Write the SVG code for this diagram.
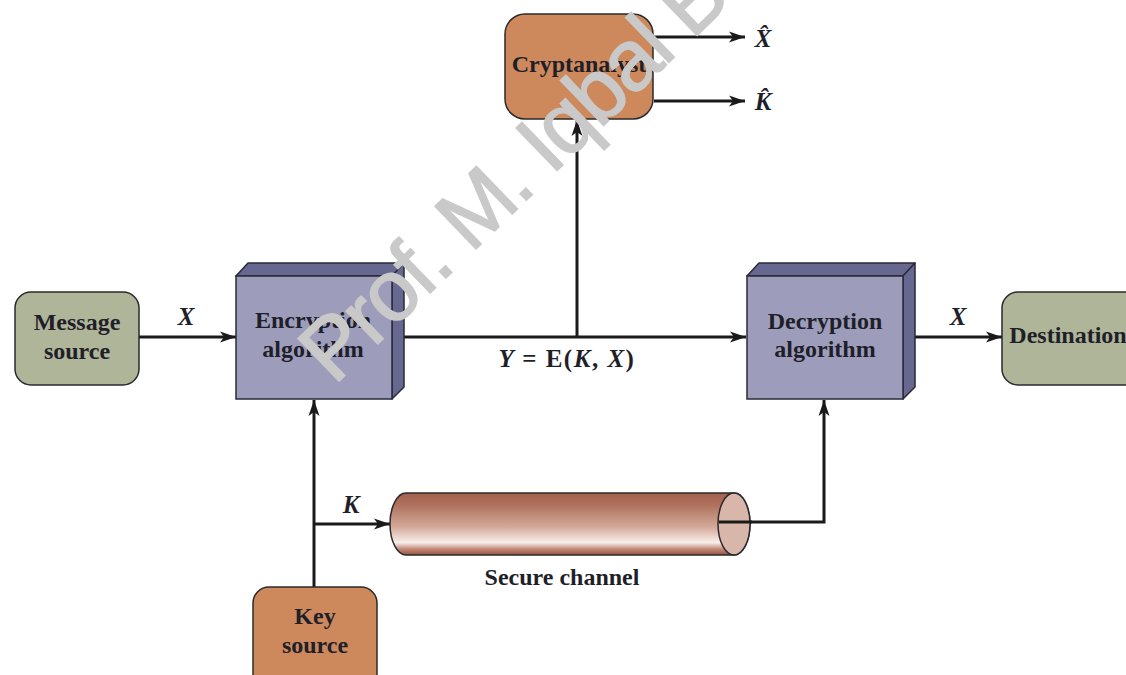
<svg xmlns="http://www.w3.org/2000/svg" width="1126" height="675" viewBox="0 0 1126 675">
  <style>
    .lbl { font-family: "Liberation Serif", "Times New Roman", serif; font-weight: bold; font-size: 24px; fill: #1f1f2a; text-anchor: middle; }
    .var { font-family: "Liberation Serif", "Times New Roman", serif; font-weight: bold; font-style: italic; font-size: 25px; fill: #1f1f2a; text-anchor: middle; }
    .up { font-style: normal; }
    .green { fill: #afb598; stroke: #2a2a2a; stroke-width: 1.5; }
    .orange { fill: #cd895c; stroke: #2a2a2a; stroke-width: 1.5; }
    .front { fill: #9d9dbb; stroke: #2a2a3a; stroke-width: 1.5; }
    .side { fill: #66688f; stroke: #2a2a3a; stroke-width: 1.5; stroke-linejoin: round; }
    .wire { fill: none; stroke: #1a1a1a; stroke-width: 3; }
    .arrow { marker-end: url(#ah); }
    .wm { font-family: "Liberation Sans", Arial, sans-serif; font-size: 86px; letter-spacing: -2.5px; fill: #c9c9c9; stroke: #c9c9c9; stroke-width: 1.5; }
  </style>
  <defs>
    <marker id="ah" markerUnits="userSpaceOnUse" markerWidth="18" markerHeight="12" refX="16" refY="6" orient="auto">
      <path d="M0,0.5 L16,6 L0,11.5 L4,6 Z" fill="#1a1a1a"/>
    </marker>
    <linearGradient id="pipe" x1="0" y1="0" x2="0" y2="1">
      <stop offset="0" stop-color="#a4604f"/>
      <stop offset="0.2" stop-color="#b0725f"/>
      <stop offset="0.55" stop-color="#d4a999"/>
      <stop offset="0.8" stop-color="#f8efeb"/>
      <stop offset="0.9" stop-color="#c58c7b"/>
      <stop offset="1" stop-color="#94533f"/>
    </linearGradient>
  </defs>

  <rect width="1126" height="675" fill="#ffffff"/>

  <g id="connectors">
    <line class="wire arrow" x1="139" y1="337" x2="236" y2="337"/>
    <line class="wire arrow" x1="404" y1="337" x2="746" y2="337"/>
    <line class="wire arrow" x1="577" y1="337" x2="577" y2="120"/>
    <line class="wire arrow" x1="654" y1="37" x2="745" y2="37"/>
    <line class="wire arrow" x1="654" y1="101" x2="745" y2="101"/>
    <line class="wire arrow" x1="915" y1="337" x2="1002" y2="337"/>
    <line class="wire arrow" x1="314" y1="600" x2="314" y2="400"/>
    <line class="wire arrow" x1="314" y1="524" x2="390" y2="524"/>
    <polyline class="wire arrow" points="720,522 824,522 824,400"/>
    <text class="var" x="186" y="325">X</text>
    <text class="var" x="958" y="325">X</text>
    <text class="var" x="351" y="513">K</text>
    <text class="var" x="763" y="47">X̂</text>
    <text class="var" x="763" y="110">K̂</text>
    <text class="var" x="567" y="367" font-size="26" letter-spacing="1.5">Y <tspan class="up">= E(</tspan>K<tspan class="up">, </tspan>X<tspan class="up">)</tspan></text>
  </g>

  <g id="message-source">
    <rect class="green" x="15" y="292" width="124" height="93" rx="16"/>
    <text class="lbl" x="77" y="330">Message</text>
    <text class="lbl" x="77" y="359">source</text>
  </g>

  <g id="encryption">
    <polygon class="side" points="236,276 248,263 404,263 392,276"/>
    <polygon class="side" points="392,276 404,263 404,387 392,399"/>
    <rect class="front" x="236" y="276" width="156" height="123"/>
    <text class="lbl" x="313" y="328">Encryption</text>
    <text class="lbl" x="313" y="357">algorithm</text>
  </g>

  <g id="decryption">
    <polygon class="side" points="747,276 759,263 915,263 903,276"/>
    <polygon class="side" points="903,276 915,263 915,387 903,399"/>
    <rect class="front" x="747" y="276" width="156" height="123"/>
    <text class="lbl" x="825" y="329">Decryption</text>
    <text class="lbl" x="825" y="357">algorithm</text>
  </g>

  <g id="destination">
    <rect class="green" x="1002" y="292" width="140" height="93" rx="16"/>
    <text class="lbl" x="1068" y="343">Destination</text>
  </g>

  <g id="cryptanalyst">
    <rect class="orange" x="505" y="14" width="148" height="105" rx="20"/>
    <text class="lbl" x="579" y="72">Cryptanalyst</text>
  </g>

  <g id="key-source">
    <rect class="orange" x="253" y="587" width="124" height="110" rx="16"/>
    <text class="lbl" x="315" y="624">Key</text>
    <text class="lbl" x="315" y="653">source</text>
  </g>

  <g id="secure-channel">
    <path d="M406,493 L734,493 A16,31 0 0,1 734,555 L406,555 A16,31 0 0,1 406,493 Z" fill="url(#pipe)" stroke="#2a2a2a" stroke-width="1.5"/>
    <ellipse cx="734" cy="524" rx="16" ry="31" fill="#d9b6aa" stroke="#2a2a2a" stroke-width="1.5"/>
    <line class="wire" x1="719" y1="522" x2="752" y2="522"/>
    <text class="lbl" x="562" y="585" font-size="26">Secure channel</text>
  </g>

  <text class="wm" x="334" y="386" transform="rotate(-44 334 386)">Prof. M. Iqbal B</text>
</svg>
